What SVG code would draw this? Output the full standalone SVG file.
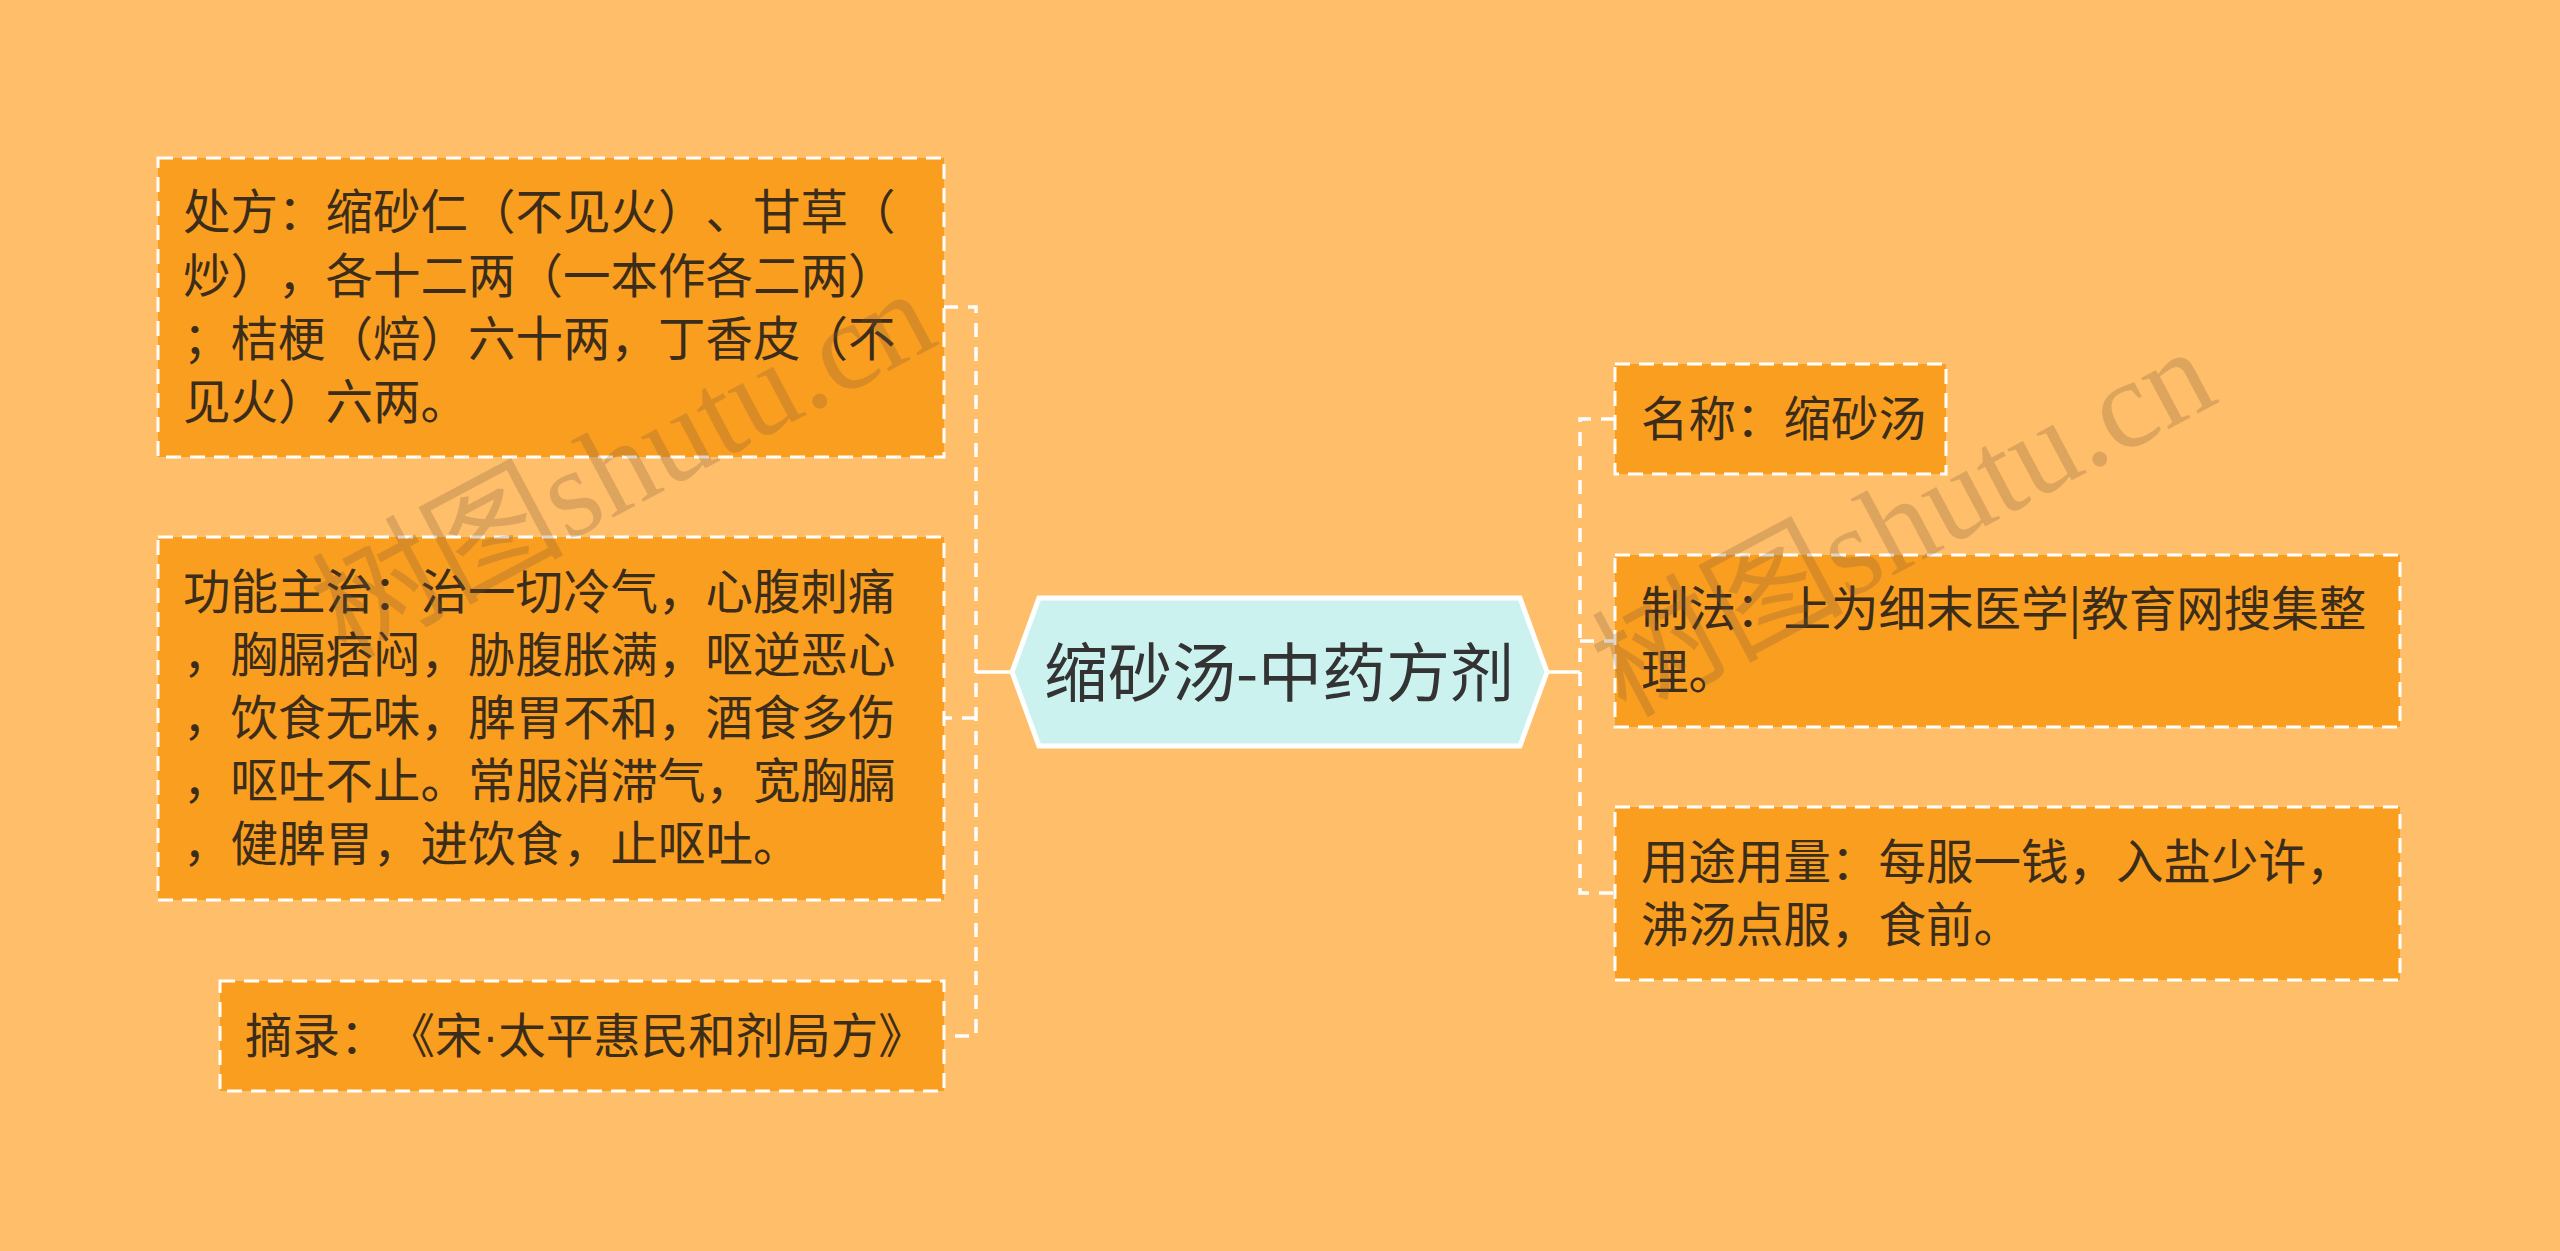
<svg xmlns="http://www.w3.org/2000/svg" width="2560" height="1251" viewBox="0 0 2560 1251">
<style>
.bg{fill:#FFBE6A}
.box{fill:#FA9E20;stroke:#FFFFFF;stroke-width:3;stroke-dasharray:15 9}
.hex{fill:#CCF2F0;stroke:#FFFFFF;stroke-width:5}
.t{font-family:"Noto Sans CJK SC","Noto Sans",sans-serif;font-size:47.5px;fill:#3C2D1A;text-spacing-trim:space-all;font-feature-settings:"halt" 0,"palt" 0}
.ct{font-family:"Noto Sans CJK SC","Noto Sans",sans-serif;font-size:64px;fill:#333333}
.dot{font-family:"Liberation Sans",sans-serif}
.conn{fill:none;stroke:#FFFFFF;stroke-width:3.5;stroke-dasharray:14 10}
.solid{fill:none;stroke:#FFFFFF;stroke-width:3.5}
.wm{font-family:"Liberation Serif","Noto Sans CJK SC",serif;font-size:126px;fill:#7A5A3A;fill-opacity:0.26}
</style>
<rect class="bg" x="0" y="0" width="2560" height="1251"/>
<g id="connectors">
<path class="solid" d="M1012 672 H976"/>
<path class="conn" d="M944 307 H976 V1036 H944"/>
<path class="conn" d="M976 718 H944"/>
<path class="solid" d="M1547 672 H1580"/>
<path class="conn" d="M1615 419 H1580 V893 H1615"/>
<path class="conn" d="M1580 641 H1615"/>
</g>
<g id="center">
<polygon class="hex" points="1012,672 1039,598 1520,598 1547,672 1520,746 1039,746"/>
<text class="ct" x="1279" y="696" text-anchor="middle">缩砂汤-中药方剂</text>
</g>
<g id="node-chufang">
<rect class="box" x="158" y="158" width="786" height="299"/>
<text class="t" x="183" y="229">处方：缩砂仁（不见火）、甘草（</text>
<text class="t" x="183" y="293">炒），各十二两（一本作各二两）</text>
<text class="t" x="183" y="356">；桔梗（焙）六十两，丁香皮（不</text>
<text class="t" x="183" y="419">见火）六两。</text>
</g>
<g id="node-gongneng">
<rect class="box" x="158" y="537" width="786" height="363"/>
<text class="t" x="183" y="609">功能主治：治一切冷气，心腹刺痛</text>
<text class="t" x="183" y="672">，胸膈痞闷，胁腹胀满，呕逆恶心</text>
<text class="t" x="183" y="735">，饮食无味，脾胃不和，酒食多伤</text>
<text class="t" x="183" y="798">，呕吐不止。常服消滞气，宽胸膈</text>
<text class="t" x="183" y="861">，健脾胃，进饮食，止呕吐。</text>
</g>
<g id="node-zhailu">
<rect class="box" x="220" y="981" width="724" height="110"/>
<text class="t" x="245" y="1053">摘录：《宋<tspan class="dot">·</tspan>太平惠民和剂局方》</text>
</g>
<g id="node-mingcheng">
<rect class="box" x="1615" y="364" width="331" height="110"/>
<text class="t" x="1641" y="436">名称：缩砂汤</text>
</g>
<g id="node-zhifa">
<rect class="box" x="1615" y="555" width="785" height="172"/>
<text class="t" x="1641" y="626">制法：上为细末医学|教育网搜集整</text>
<text class="t" x="1641" y="689">理。</text>
</g>
<g id="node-yongtu">
<rect class="box" x="1615" y="807" width="785" height="173"/>
<text class="t" x="1641" y="879">用途用量：每服一钱，入盐少许，</text>
<text class="t" x="1641" y="942">沸汤点服，食前。</text>
</g>
<text class="wm" x="345" y="660" transform="rotate(-28 345 660)">树图shutu.cn</text>
<text class="wm" x="1625" y="718" transform="rotate(-28 1625 718)">树图shutu.cn</text>
</svg>
